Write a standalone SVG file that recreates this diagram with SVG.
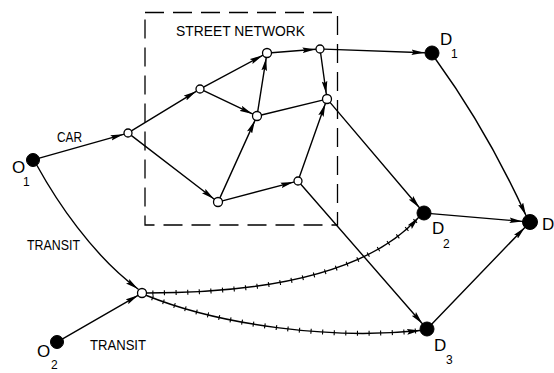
<svg xmlns="http://www.w3.org/2000/svg" width="554" height="373" viewBox="0 0 554 373">
<style>
.bg{fill:#fff}
.e{fill:none;stroke:#000;stroke-width:1.4;stroke-linecap:round}
.ea{fill:none;stroke:#000;stroke-width:1.4;stroke-linecap:round;marker-end:url(#arr)}
.tick{fill:none;stroke:#000;stroke-width:5;stroke-dasharray:1.1 10.5}
.open{fill:#fff;stroke:#000;stroke-width:1.3}
.full{fill:#000;stroke:#000;stroke-width:1}
.box{fill:none;stroke:#000;stroke-width:1.3;stroke-dasharray:19 9}
.t{font-family:"Liberation Sans",Arial,sans-serif;fill:#000}
.lab{font-size:14px}
.big{font-size:17px}
.sub{font-size:12px}
</style>
<defs>
<marker id="arr" viewBox="0 0 13 6" refX="13" refY="3" markerWidth="13" markerHeight="6" orient="auto" markerUnits="userSpaceOnUse">
<path d="M0,0.2 L13,3 L0,5.8 L2,3 z" fill="#000"/>
</marker>
</defs>
<rect class="bg" x="0" y="0" width="554" height="373"/>

<g id="street-network">
<rect class="box" x="145" y="12.5" width="192.5" height="212.5"/>
<text class="t lab" x="176" y="36" textLength="129" lengthAdjust="spacingAndGlyphs">STREET NETWORK</text>
</g>

<g id="connectors">
<path class="ea" d="M39.3,158.2 L123.5,134.3"/>
<path class="ea" d="M131.4,130.9 L196.2,91.3"/>
<path class="ea" d="M203.5,87.1 L262.6,55.4"/>
<path class="ea" d="M203.6,90.7 L252.5,113.9"/>
<path class="ea" d="M257.7,111.6 L266.2,57.9"/>
<path class="ea" d="M271.5,52.7 L315.5,49.3"/>
<path class="ea" d="M320.6,53 L326.3,94"/>
<path class="e" d="M261.4,115 L322.6,100.1"/>
<path class="ea" d="M131.2,135.4 L214,199"/>
<path class="ea" d="M219.9,197.9 L254.9,120.6"/>
<path class="ea" d="M222.4,200.9 L293.6,182.1"/>
<path class="ea" d="M299.3,177.2 L325.3,103.7"/>
<path class="ea" d="M324,49.1 L424.5,52.7"/>
<path class="ea" d="M435.5,59 Q487,130 526,215.5"/>
<path class="ea" d="M330,102.4 L419.5,207.7"/>
<path class="ea" d="M300.6,184 L422.4,323.7"/>
<path class="ea" d="M431,213.6 L522.5,221.4"/>
<path class="ea" d="M431.9,324 L524.8,227.4"/>
<path class="ea" d="M37,165.5 C56,200 92,255 138,289"/>
<path class="ea" d="M62.6,338.8 L138.1,295.3"/>
<path class="ea" d="M146.5,293 C240,293 360,282 418.5,217.5"/>
<path class="tick" d="M146.5,293 C240,293 360,282 418.5,217.5" stroke-dashoffset="-6"/>
<path class="ea" d="M146.5,295.5 C220,325 330,340 420,330.5"/>
<path class="tick" d="M146.5,295.5 C220,325 330,340 420,330.5" stroke-dashoffset="-6"/>
</g>

<g id="label-car"><text class="t lab" x="57" y="142" textLength="25" lengthAdjust="spacingAndGlyphs">CAR</text></g>
<g id="label-transit-1"><text class="t lab" x="27" y="250" textLength="53" lengthAdjust="spacingAndGlyphs">TRANSIT</text></g>
<g id="label-transit-2"><text class="t lab" x="90" y="350" textLength="56" lengthAdjust="spacingAndGlyphs">TRANSIT</text></g>

<g id="node-O1">
<circle class="full" cx="33" cy="160" r="6.5"/>
<text class="t big" x="12" y="173">O</text><text class="t sub" x="23" y="186">1</text>
</g>
<g id="node-O2">
<circle class="full" cx="57" cy="342" r="6.5"/>
<text class="t big" x="37" y="357">O</text><text class="t sub" x="51" y="369">2</text>
</g>
<g id="node-A"><circle class="open" cx="128" cy="133" r="4"/></g>
<g id="node-B"><circle class="open" cx="200" cy="89" r="4"/></g>
<g id="node-C"><circle class="open" cx="267" cy="53" r="4.5"/></g>
<g id="node-E"><circle class="open" cx="257" cy="116" r="4.5"/></g>
<g id="node-F"><circle class="open" cx="320" cy="49" r="4"/></g>
<g id="node-G"><circle class="open" cx="327" cy="99" r="4.5"/></g>
<g id="node-H"><circle class="open" cx="218" cy="202" r="4.5"/></g>
<g id="node-I"><circle class="open" cx="298" cy="181" r="4"/></g>
<g id="node-T"><circle class="open" cx="142" cy="293" r="4.5"/></g>
<g id="node-D1">
<circle class="full" cx="432" cy="53" r="7"/>
<text class="t big" x="440" y="45">D</text><text class="t sub" x="451" y="58">1</text>
</g>
<g id="node-D2">
<circle class="full" cx="424" cy="213" r="7"/>
<text class="t big" x="432" y="234">D</text><text class="t sub" x="443" y="248">2</text>
</g>
<g id="node-D3">
<circle class="full" cx="427" cy="329" r="7"/>
<text class="t big" x="434" y="351">D</text><text class="t sub" x="446" y="364">3</text>
</g>
<g id="node-D">
<circle class="full" cx="530" cy="222" r="7.5"/>
<text class="t big" x="542" y="230">D</text>
</g>
</svg>
